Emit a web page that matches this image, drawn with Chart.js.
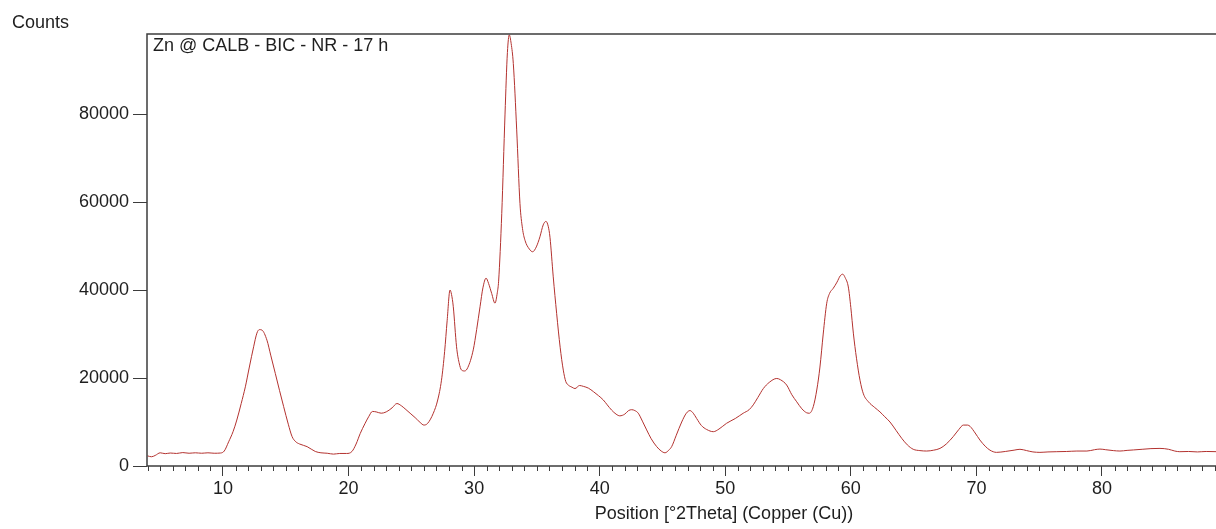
<!DOCTYPE html>
<html>
<head>
<meta charset="utf-8">
<title>Zn @ CALB - BIC - NR - 17 h</title>
<script src="https://cdn.jsdelivr.net/npm/chart.js@4.4.1/dist/chart.umd.min.js"></script>
<style>
  html, body { margin: 0; padding: 0; background: #fff; overflow: hidden; }
  canvas { display: block; }
</style>
</head>
<body>
<canvas id="xrd" width="1310" height="529"></canvas>
<script>
// diffractogram
const sampleName = 'Zn @ CALB - BIC - NR - 17 h';
const yLabel = 'Counts';
const xLabel = 'Position [°2Theta] (Copper (Cu))';

const positions = [
  4.0, 4.3, 4.6, 5.0, 5.4, 5.8, 6.3, 6.8, 7.3, 7.8, 8.3, 8.8, 9.3, 9.8,
  10.1, 10.45, 10.8, 11.1, 11.45, 11.78, 12.1, 12.44, 12.7, 12.9, 13.1, 13.5, 13.8,
  14.17, 14.5, 14.83, 15.2, 15.5, 15.8, 16.1, 16.7, 17.35, 17.8, 18.3, 18.8, 19.3, 19.85,
  20.27, 20.6, 20.93, 21.3, 21.6, 21.9, 22.2, 22.6, 23.0, 23.46, 23.85, 24.2, 24.5, 24.9,
  25.3, 25.7, 26.0, 26.3, 26.75, 27.1, 27.4, 27.65, 27.85, 28.08, 28.2, 28.34, 28.6, 28.8,
  29.0, 29.25, 29.5, 29.93, 30.2, 30.47, 30.7, 30.95, 31.15, 31.4, 31.66, 31.85, 31.95,
  32.2, 32.46, 32.65, 32.8, 32.95, 33.12, 33.39, 33.65, 33.85, 34.05, 34.4, 34.66, 34.95,
  35.24, 35.5, 35.72, 35.9, 36.04, 36.3, 36.57, 36.85, 37.1, 37.3, 37.5, 37.8, 38.03,
  38.4, 38.7, 39.1, 39.5, 39.9, 40.29, 40.6, 40.95, 41.3, 41.6, 42.0, 42.3, 42.55, 42.8,
  43.07, 43.4, 43.74, 44.1, 44.54, 44.9, 45.2, 45.5, 45.73, 46.1, 46.53, 46.9, 47.19,
  47.45, 47.72, 48.1, 48.52, 49.05, 49.5, 50.1, 50.8, 51.43, 51.9, 52.23, 52.6, 53.03,
  53.5, 54.1, 54.4, 54.89, 55.3, 55.69, 56.1, 56.48, 56.7, 57.01, 57.3, 57.54, 57.8,
  58.08, 58.3, 58.6, 58.9, 59.15, 59.35, 59.55, 59.8, 60.0, 60.2, 60.45, 60.73, 61.0,
  61.4, 61.9, 62.32, 62.7, 63.12, 63.6, 64.05, 64.5, 64.97, 65.5, 66.04, 66.6, 67.1,
  67.6, 68.16, 68.6, 68.96, 69.3, 69.5, 69.9, 70.28, 70.7, 71.08, 71.6, 72.3, 73.0,
  73.47, 74.0, 74.5, 75.06, 75.7, 76.4, 77.19, 78.0, 78.8, 79.4, 79.84, 80.3, 80.9,
  81.43, 82.0, 82.5, 83.2, 83.9, 84.62, 85.3, 85.8, 86.2, 86.9, 87.6, 88.3, 89.2
];

const counts = [
  2300, 2100, 2400, 3000, 2800, 2950, 2850, 3050, 2900, 3000, 2900, 3000, 2900, 2950,
  3400, 5500, 7800, 10450, 14200, 18000, 22500, 27100, 30200, 31000, 30900, 28600, 25200,
  21000, 17200, 13500, 9500, 6700, 5500, 5000, 4400, 3300, 3000, 2900, 2700, 2850, 2850,
  3300, 5000, 7400, 9600, 11200, 12400, 12300, 12000, 12300, 13200, 14200, 13700, 13000, 12000,
  11000, 9900, 9300, 9700, 12000, 15000, 19500, 26000, 33000, 40000, 39000, 36200, 27100, 23500,
  21800, 21600, 22400, 26400, 31000, 36200, 40500, 42700, 41500, 39200, 37000, 39500, 42000,
  57400, 80000, 94000, 98000, 96000, 91500, 76400, 59700, 54000, 51300, 49300, 48700, 49800,
  52100, 54800, 55600, 54500, 52000, 43000, 34700, 27000, 21800, 19200, 18400, 17900, 17600,
  18300, 18100, 17700, 16900, 16000, 15000, 13900, 12700, 11800, 11400, 11800, 12600, 12800, 12600,
  12000, 10200, 8200, 6200, 4400, 3400, 3000, 3600, 4400, 7000, 10000, 12000, 12600,
  12000, 10800, 9200, 8300, 7800, 8400, 9700, 10800, 12000, 12800, 13900, 15600, 17600,
  19000, 19900, 19600, 18400, 16200, 14600, 13000, 12100, 12000, 13500, 17500, 22500, 30000,
  37000, 39200, 40400, 41800, 43200, 43600, 42800, 40700, 36000, 30200, 24500, 19500, 16400,
  14600, 13300, 12300, 11200, 10000, 8100, 6300, 4800, 3800, 3500, 3400, 3600, 4000,
  5000, 6700, 8300, 9300, 9300, 9000, 7500, 5900, 4500, 3600, 3100, 3300, 3600,
  3800, 3500, 3200, 3100, 3200, 3250, 3300, 3400, 3400, 3700, 3850, 3700, 3500,
  3400, 3550, 3650, 3800, 3950, 4000, 3800, 3400, 3250, 3300, 3200, 3300, 3250
];

const countTicks = [0, 20000, 40000, 60000, 80000];
const positionLabels = [10, 20, 30, 40, 50, 60, 70, 80];

const font = { family: '"Liberation Sans", Arial, sans-serif', size: 18 };
const inkColor = '#1e1e1e';
const frameColor = '#3c3c3c';

// box round the plot, the short unlabelled ticks and the two free texts
const frame = {
  id: 'frame',
  afterDraw(chart) {
    const { ctx, chartArea: a } = chart;
    const x = chart.scales.x;
    ctx.save();
    ctx.strokeStyle = frameColor;
    ctx.lineWidth = 1.5;
    ctx.strokeRect(a.left, a.top, a.right - a.left, a.bottom - a.top);

    ctx.lineWidth = 1;
    x.ticks.forEach(t => {
      if (positionLabels.includes(t.value)) return;
      const px = Math.round(x.getPixelForValue(t.value)) + 0.5;
      ctx.beginPath();
      ctx.moveTo(px, a.bottom);
      ctx.lineTo(px, a.bottom + 5);
      ctx.stroke();
    });

    ctx.fillStyle = inkColor;
    ctx.font = font.size + 'px ' + font.family;
    ctx.textBaseline = 'alphabetic';
    ctx.textAlign = 'left';
    ctx.fillText(yLabel, 12, 28);
    ctx.fillText(sampleName, a.left + 6, a.top + 17);
    ctx.restore();
  }
};

new Chart(document.getElementById('xrd'), {
  type: 'line',
  data: {
    datasets: [{
      data: positions.map((p, i) => ({ x: p, y: counts[i] })),
      borderColor: '#b3322f',
      borderWidth: 1,
      pointRadius: 0,
      cubicInterpolationMode: 'monotone',
      fill: false,
    }],
  },
  options: {
    responsive: false,
    animation: false,
    devicePixelRatio: 1,
    layout: { padding: { top: 34, right: 9, left: 0, bottom: 0 } },
    plugins: {
      legend: { display: false },
      tooltip: { enabled: false },
    },
    scales: {
      x: {
        type: 'linear',
        min: 3.948,
        max: 95.85,
        border: { display: false },
        grid: {
          drawOnChartArea: false,
          tickLength: 10,
          tickColor: ctx => positionLabels.includes(ctx.tick && ctx.tick.value) ? frameColor : 'rgba(0,0,0,0)',
        },
        ticks: {
          stepSize: 1,
          maxTicksLimit: 200,
          autoSkip: false,
          includeBounds: false,
          maxRotation: 0,
          padding: 2,
          color: inkColor,
          font,
          callback: v => positionLabels.includes(v) ? String(v) : '',
        },
        title: {
          display: true,
          text: xLabel,
          color: inkColor,
          font,
          padding: { top: 0, bottom: 4 },
        },
        afterFit(s) { s.height = 63; },
      },
      y: {
        min: 0,
        max: 98200,
        border: { display: false },
        grid: {
          drawOnChartArea: false,
          tickLength: 14,
          tickColor: frameColor,
        },
        ticks: {
          padding: 4,
          color: inkColor,
          font,
          callback: v => String(v),
        },
        afterBuildTicks(s) { s.ticks = countTicks.map(v => ({ value: v })); },
        afterFit(s) { s.width = 147; },
      },
    },
  },
  plugins: [frame],
});
</script>
</body>
</html>
